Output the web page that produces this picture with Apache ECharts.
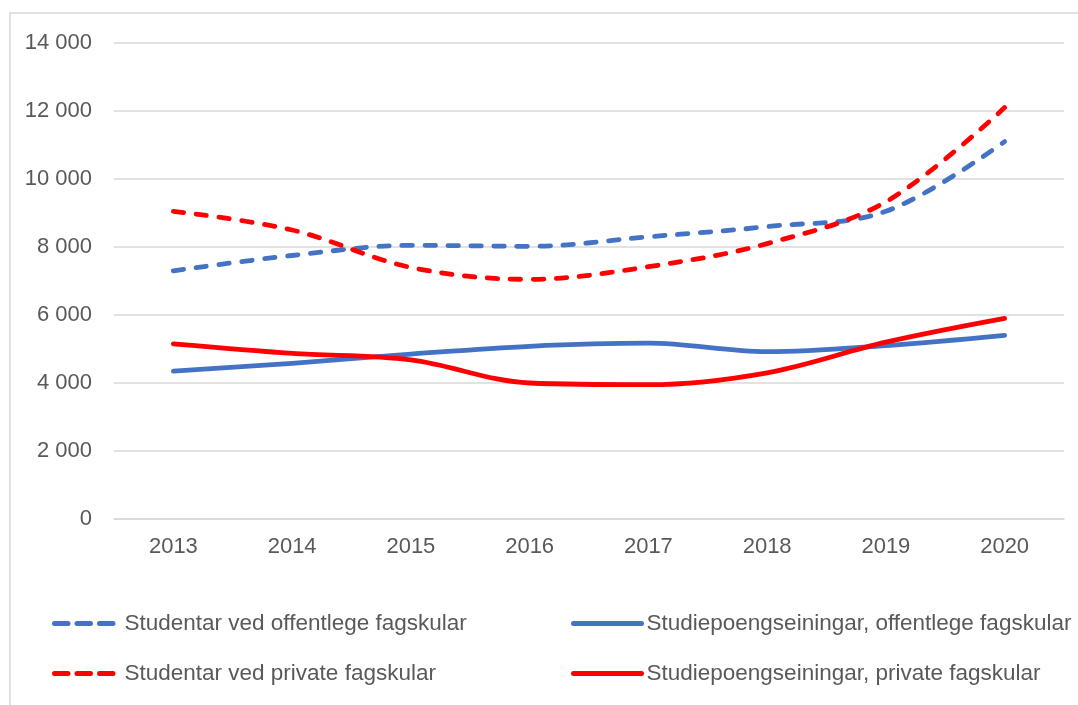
<!DOCTYPE html>
<html>
<head>
<meta charset="utf-8">
<script src="https://cdn.jsdelivr.net/npm/echarts@6/dist/echarts.min.js"></script>
<style>
html,body{margin:0;padding:0;background:#fff;}
#chart{width:1078px;height:705px;}
</style>
</head>
<body>
<div id="chart"></div>
<script>
var years = ['2013','2014','2015','2016','2017','2018','2019','2020'];
var studentarOffentlege = [7300, 7750, 8050, 8020, 8300, 8600, 9050, 11100];
var studentarPrivate = [9050, 8500, 7400, 7050, 7420, 8100, 9330, 12100];
var spOffentlege = [4350, 4580, 4850, 5080, 5170, 4920, 5100, 5400];
var spPrivate = [5150, 4870, 4680, 4000, 3950, 4300, 5200, 5900];
var names = ['Studentar ved offentlege fagskular','Studiepoengseiningar, offentlege fagskular','Studentar ved private fagskular','Studiepoengseiningar, private fagskular'];

var BLUE = '#4472C4', RED = '#FF0000';
var font = 'Liberation Sans, Arial, sans-serif';
var txt = {fontFamily: font, fontSize: 22, color: '#595959'};
var DASH = [10.5, 12.5];
var LEGDASH = [13.5, 9];

function fmt(v){ return String(v).replace(/\B(?=(\d{3})+(?!\d))/g, ' '); }

function mk(name, data, color, dashed){
  return {
    name: name, type: 'line', data: data, smooth: 0.35,
    symbol: 'none', showSymbol: false,
    lineStyle: {color: color, width: 4.8, type: dashed ? DASH : 'solid', cap: 'round', join: 'round'},
    itemStyle: {color: color},
    emphasis: {disabled: true}
  };
}

function leg(name, left, top, w, pad, color, dashed){
  return {
    data: [name], left: left, top: top, itemWidth: w, itemHeight: 14,
    textStyle: Object.assign({}, txt, {fontSize: 22.5, padding: [0,0,0,pad]}),
    itemStyle: {opacity: 0},
    lineStyle: {color: color, width: 5, type: dashed ? LEGDASH : 'solid', cap: 'round'},
    selectedMode: false
  };
}

var chart = echarts.init(document.getElementById('chart'), null, {renderer: 'canvas'});
chart.setOption({
  backgroundColor: '#fff',
  animation: false,
  graphic: [{type: 'rect', shape: {x: 10, y: 13, width: 1200, height: 900}, style: {fill: 'none', stroke: '#d9d9d9', lineWidth: 1.5}, z: -1}],
  grid: {left: 114, right: 14, top: 43, bottom: 186, containLabel: false},
  legend: [
    leg(names[0], 47, 607, 62, 3, BLUE, true),
    leg(names[1], 566, 607, 68, 0, BLUE, false),
    leg(names[2], 47, 657, 62, 3, RED, true),
    leg(names[3], 566, 657, 68, 0, RED, false)
  ],
  xAxis: {
    type: 'category', data: years, boundaryGap: true,
    axisLine: {show: true, lineStyle: {color: '#d9d9d9', width: 1.5}},
    axisTick: {show: false},
    axisLabel: Object.assign({}, txt, {margin: 17})
  },
  yAxis: {
    type: 'value', min: 0, max: 14000, interval: 2000,
    axisLine: {show: false}, axisTick: {show: false},
    axisLabel: Object.assign({}, txt, {margin: 22, formatter: fmt}),
    splitLine: {lineStyle: {color: '#d9d9d9', width: 1.5}}
  },
  series: [
    mk(names[0], studentarOffentlege, BLUE, true),
    mk(names[1], spOffentlege, BLUE, false),
    mk(names[2], studentarPrivate, RED, true),
    mk(names[3], spPrivate, RED, false)
  ]
});
</script>
</body>
</html>
